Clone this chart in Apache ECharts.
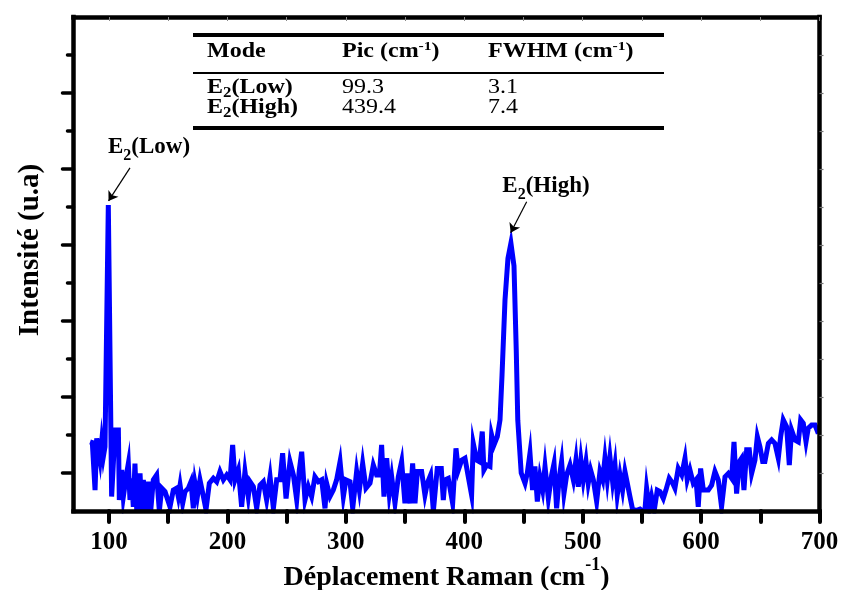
<!DOCTYPE html>
<html><head><meta charset="utf-8">
<script src="https://cdn.jsdelivr.net/npm/echarts@6/dist/echarts.min.js"></script>
<style>html,body{margin:0;padding:0;background:#fff}#c{width:841px;height:590px}</style>
</head><body><div id="c"></div>
<script>
// ---- data ----
const ramanShift = [84.0,85.9,88.2,89.6,92.4,93.8,95.2,96.6,99.4,102.2,105.1,107.9,108.7,110.7,112.1,114.9,116.3,117.7,119.1,120.5,121.9,123.4,126.2,127.6,129.0,131.2,133.2,135.2,137.4,140.2,142.5,144.5,147.3,148.7,151.5,154.3,157.1,158.5,160.0,162.2,164.2,167.0,169.2,171.2,172.6,174.6,176.8,179.7,181.9,184.7,188.1,190.9,193.7,196.6,199.4,202.2,204.4,206.4,209.2,212.0,214.8,217.6,219.1,221.9,224.7,227.5,230.3,233.1,236.0,238.8,241.6,244.4,246.6,249.5,252.8,255.7,258.5,260.7,262.7,265.5,268.3,271.1,273.9,276.8,279.6,282.4,283.8,286.6,289.4,292.2,295.1,297.9,300.1,303.5,305.8,309.1,311.4,314.2,317.0,320.4,323.2,326.0,328.3,330.2,332.2,334.5,336.7,338.7,341.5,344.3,347.1,349.9,351.9,354.2,356.4,358.4,360.4,364.0,366.8,368.8,371.6,373.9,377.2,380.6,382.3,383.7,386.5,390.2,393.0,395.0,397.8,400.6,403.4,406.2,407.6,410.5,412.7,415.2,416.6,418.9,421.7,423.1,425.1,427.9,430.2,431.9,434.4,436.9,439.4,442.0,443.9,445.2,448.1,451.3,453.2,455.5,457.7,459.7,461.7,463.9,466.2,468.2,471.0,473.8,475.8,478.0,480.3,482.2,484.2,486.5,489.3,492.1,494.3,496.3,498.5,500.5,502.8,504.7,506.7,509.0,511.8,514.6,516.9,518.8,520.8,523.0,525.3,527.3,529.2,531.5,533.7,535.7,537.7,539.9,542.2,545.6,548.4,550.6,552.6,554.0,556.3,558.2,560.5,563.0,565.3,568.1,570.3,573.1,576.0,577.9,580.7,583.6,586.4,588.3,590.6,593.4,595.7,597.6,599.6,601.9,604.1,606.1,608.9,611.7,614.5,617.3,620.2,623.0,625.8,627.8,630.0,632.3,634.2,636.2,638.5,640.7,642.7,645.5,647.5,649.7,652.0,653.9,656.8,659.6,662.4,665.2,667.2,669.4,672.2,674.5,676.4,679.3,682.1,684.1,686.3,688.6,690.5,693.3,696.2,699.0];
const intensity = [1.82,1.80,0.55,1.91,1.34,1.82,1.43,1.69,8.05,0.38,2.13,2.13,0.29,1.08,0.38,0.99,1.25,0.29,0.86,0.11,1.25,0.03,0.99,0.03,0.82,0.00,0.77,0.00,0.82,0.95,0.00,0.60,0.51,0.55,0.11,0.55,0.60,0.38,0.68,0.20,0.51,0.60,0.77,0.07,0.73,0.38,0.82,0.38,0.03,0.73,0.86,0.77,1.04,0.82,0.95,0.82,1.74,0.82,1.08,0.11,1.04,0.38,0.77,0.64,0.07,0.68,0.77,0.29,0.90,0.07,0.82,0.82,1.52,0.33,1.30,0.95,0.29,1.08,1.56,0.29,0.64,0.38,0.90,0.77,0.82,0.07,0.73,0.38,0.55,0.82,1.30,0.38,0.82,0.77,0.07,1.04,0.55,1.25,0.60,0.73,1.21,0.95,0.95,1.74,0.38,1.39,0.46,0.90,0.20,0.90,1.30,0.20,0.99,0.20,1.25,0.20,1.04,1.04,0.42,0.73,0.95,0.00,1.12,1.12,0.29,0.82,0.86,0.20,1.65,1.08,1.34,1.39,0.90,0.42,1.78,1.34,1.30,2.09,1.08,1.21,1.17,2.00,1.74,1.96,2.40,3.58,5.55,6.65,7.05,6.45,4.24,2.39,1.00,0.73,0.99,1.52,0.55,1.17,0.25,0.90,0.55,1.17,0.33,0.95,1.25,0.07,0.90,1.30,0.46,0.95,1.21,0.82,1.34,0.64,1.34,0.82,1.30,0.73,1.08,0.82,0.25,1.04,0.82,1.39,0.82,1.43,0.77,1.21,0.42,0.95,0.55,1.04,0.73,0.38,0.03,0.02,0.05,0.00,0.03,0.60,0.07,0.38,0.03,0.55,0.51,0.33,0.55,0.86,0.73,0.60,1.12,0.95,1.39,0.82,1.08,0.73,0.82,0.11,1.12,0.55,0.55,0.55,0.68,1.04,0.82,0.11,0.90,0.99,0.86,1.82,0.46,1.30,1.39,0.55,1.61,1.61,0.99,1.34,1.96,1.69,1.30,1.30,1.78,1.87,1.78,1.39,1.96,2.40,2.22,1.21,2.13,1.87,1.82,2.40,2.31,1.82,2.18,2.26,2.26,2.04];
const xTickValues = [100,150,200,250,300,350,400,450,500,550,600,650,700];
const xLabelValues = [100,200,300,400,500,600,700];
const yMajorTicks = [1,3,5,7,9,11];
const yMinorTicks = [2,4,6,8,10,12];
const yAllTicks = [1,2,3,4,5,6,7,8,9,10,11,12];
const tableHeader = ['Mode', 'Pic (cm', 'FWHM (cm'];
const modeNames = ['Low', 'High'];
const modePic = ['99.3', '439.4'];
const modeFwhm = ['3.1', '7.4'];

// ---- chart ----
const FONT = "'Liberation Serif','Times New Roman',serif";
const series = ramanShift.map((x, i) => [x, intensity[i]]);

const annRich = {
  b: {fontFamily: FONT, fontWeight: 'bold', fontSize: 23, color: '#000', lineHeight: 34},
  sub: {fontFamily: FONT, fontWeight: 'bold', fontSize: 16, color: '#000', verticalAlign: 'bottom'}
};

const tRich = {
  h: {fontFamily: FONT, fontWeight: 'bold', fontSize: 20, fill: '#000', lineHeight: 24},
  r: {fontFamily: FONT, fontWeight: 'normal', fontSize: 20, fill: '#000', lineHeight: 24},
  sup: {fontFamily: FONT, fontWeight: 'bold', fontSize: 13, fill: '#000', verticalAlign: 'top'},
  sub: {fontFamily: FONT, fontWeight: 'bold', fontSize: 14, fill: '#000', verticalAlign: 'bottom'}
};
const colX = [207, 342, 488];
const rowY = [52, 88, 108];
const graphics = [
  {type: 'line', shape: {x1: 193, y1: 35, x2: 664, y2: 35}, style: {stroke: '#000', lineWidth: 4}},
  {type: 'line', shape: {x1: 193, y1: 73, x2: 664, y2: 73}, style: {stroke: '#000', lineWidth: 2.2}},
  {type: 'line', shape: {x1: 193, y1: 128, x2: 664, y2: 128}, style: {stroke: '#000', lineWidth: 4}}
];
function tText(str, x, y) {
  return {type: 'text', x: x, y: y, scaleX: 1.2, z: 10,
    style: {x: 0, y: 0, text: str, rich: tRich, verticalAlign: 'middle', align: 'left'}};
}
tableHeader.forEach((h, i) => {
  const s = i === 0 ? '{h|' + h + '}' : '{h|' + h + '}{sup|-1}{h|)}';
  graphics.push(tText(s, colX[i], rowY[0]));
});
modeNames.forEach((m, r) => {
  graphics.push(tText('{h|E}{sub|2}{h|(' + m + ')}', colX[0], rowY[r + 1]));
  graphics.push(tText('{r|' + modePic[r] + '}', colX[1], rowY[r + 1]));
  graphics.push(tText('{r|' + modeFwhm[r] + '}', colX[2], rowY[r + 1]));
});

const chart = echarts.init(document.getElementById('c'), null, {renderer: 'canvas'});
chart.setOption({
  animation: false,
  backgroundColor: '#fff',
  grid: {left: 73.5, right: 21.5, top: 17, bottom: 79, containLabel: false, outerBoundsMode: 'none'},
  xAxis: [{
    type: 'value', position: 'bottom', min: 70, max: 700, z: 5,
    axisLine: {show: true, onZero: false, lineStyle: {color: '#000', width: 4.5, cap: 'square'}},
    axisTick: {show: true, customValues: xTickValues, length: 11, lineStyle: {color: '#000', width: 4, cap: 'round'}},
    axisLabel: {show: true, customValues: xLabelValues, margin: 19, fontFamily: FONT, fontWeight: 'bold', fontSize: 25, color: '#000'},
    splitLine: {show: false},
    name: '{t|Déplacement Raman (cm}{s|-1}{t|)}', nameLocation: 'middle', nameGap: 45, nameMoveOverlap: false,
    nameTextStyle: {rich: {
      t: {fontFamily: FONT, fontWeight: 'bold', fontSize: 28, color: '#000', lineHeight: 44},
      s: {fontFamily: FONT, fontWeight: 'bold', fontSize: 18, color: '#000', verticalAlign: 'top'}
    }}
  }, {
    type: 'value', position: 'top', min: 70, max: 700, z: 5,
    axisLine: {show: true, onZero: false, lineStyle: {color: '#000', width: 4.5, cap: 'square'}},
    axisTick: {show: true, inside: true, customValues: xTickValues, length: 4, lineStyle: {color: '#888', width: 1}},
    axisLabel: {show: false}, splitLine: {show: false}
  }],
  yAxis: [{
    type: 'value', position: 'left', min: 0, max: 13, z: 5,
    axisLine: {show: true, onZero: false, lineStyle: {color: '#000', width: 4.5, cap: 'square'}},
    axisTick: {show: true, customValues: yMajorTicks, length: 11, lineStyle: {color: '#000', width: 3.5, cap: 'round'}},
    axisLabel: {show: false}, splitLine: {show: false},
    name: 'Intensité (u.a)', nameLocation: 'middle', nameGap: 28,
    nameTextStyle: {fontFamily: FONT, fontWeight: 'bold', fontSize: 29, color: '#000', padding: [0, 0, 0, 28]}
  }, {
    type: 'value', position: 'left', min: 0, max: 13, z: 5,
    axisLine: {show: false},
    axisTick: {show: true, customValues: yMinorTicks, length: 6, lineStyle: {color: '#000', width: 3.5, cap: 'round'}},
    axisLabel: {show: false}, splitLine: {show: false}
  }, {
    type: 'value', position: 'right', min: 0, max: 13, z: 5,
    axisLine: {show: true, onZero: false, lineStyle: {color: '#000', width: 4.5, cap: 'square'}},
    axisTick: {show: true, customValues: yAllTicks, length: 4, lineStyle: {color: '#777', width: 1.2}},
    axisLabel: {show: false}, splitLine: {show: false}
  }],
  series: [{
    type: 'line', xAxisIndex: 0, yAxisIndex: 0, data: series, showSymbol: false, symbol: 'none',
    lineStyle: {color: '#0000ff', width: 5, join: 'miter'},
    clip: true, z: 2,
    markLine: {
      silent: true, symbol: ['none', 'arrow'], symbolSize: 9, precision: 2,
      label: {show: false},
      lineStyle: {color: '#000', width: 1.2, type: 'solid'},
      data: [
        [{coord: [117.7, 9.03]}, {coord: [99.6, 8.16]}],
        [{coord: [452.7, 8.14]}, {coord: [439.2, 7.32]}]
      ]
    },
    markPoint: {
      silent: true, symbol: 'rect', symbolSize: 1, itemStyle: {color: 'rgba(0,0,0,0)'},
      label: {show: true, position: 'inside', rich: annRich},
      data: [
        {coord: [133.8, 9.58], label: {formatter: '{b|E}{sub|2}{b|(Low)}'}},
        {coord: [469, 8.55], label: {formatter: '{b|E}{sub|2}{b|(High)}'}}
      ]
    }
  }],
  graphic: graphics
});
</script></body></html>
